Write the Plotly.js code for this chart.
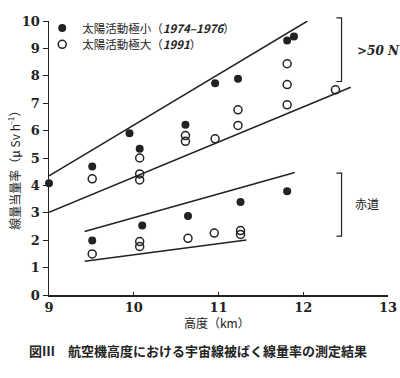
<!DOCTYPE html>
<html>
<head>
<meta charset="utf-8">
<script src="https://cdn.plot.ly/plotly-3.0.1.min.js"></script>
<style>html,body{margin:0;padding:0;background:#fff;}</style>
</head>
<body>
<div id="chart" style="width:400px;height:378px;"></div>
<script>
// ---- data ----
const minHighAlt = [9.0, 9.51, 9.95, 10.07, 10.61, 10.96, 11.23, 11.81, 11.89];
const minHighRate = [4.08, 4.69, 5.90, 5.34, 6.21, 7.73, 7.89, 9.29, 9.43];
const maxHighAlt = [9.51, 10.07, 10.07, 10.07, 10.61, 10.61, 10.96, 11.23, 11.23, 11.81, 11.81, 11.81, 12.38];
const maxHighRate = [4.24, 5.00, 4.42, 4.20, 5.82, 5.61, 5.70, 6.76, 6.19, 8.44, 7.68, 6.94, 7.49];
const minEqAlt = [9.51, 10.10, 10.64, 11.26, 11.81];
const minEqRate = [1.99, 2.54, 2.88, 3.39, 3.79];
const maxEqAlt = [9.51, 10.07, 10.07, 10.64, 10.95, 11.26, 11.26];
const maxEqRate = [1.50, 1.95, 1.77, 2.07, 2.26, 2.35, 2.21];

const fitMinHighAlt = [9.0, 12.05];
const fitMinHighRate = [4.35, 10.0];
const fitMaxHighAlt = [9.0, 12.56];
const fitMaxHighRate = [3.02, 7.58];
const fitMinEqAlt = [9.42, 11.9];
const fitMinEqRate = [2.32, 4.47];
const fitMaxEqAlt = [9.42, 11.33];
const fitMaxEqRate = [1.23, 2.01];

const seriesNames = ['太陽活動極小（<i><b>1974–1976</b></i>）', '太陽活動極大（<i><b>1991</b></i>）'];
const regionLabels = ['<i><b>&gt;50 N</b></i>', '赤道'];
const xTitle = '高度（km）';
const yTitle = '線量当量率（μ Sv h<sup>-1</sup>）';
const caption = '<b>図Ⅲ　航空機高度における宇宙線被ばく線量率の測定結果</b>';
const xTicks = [9, 10, 11, 12, 13];
const yTicks = [0, 1, 2, 3, 4, 5, 6, 7, 8, 9, 10];

// ---- styles ----
const ink = '#222';
const jp = '"Noto Sans CJK JP", "Noto Sans", sans-serif';
const serif = '"DejaVu Serif", "Liberation Serif", serif';
const filledMarker = {symbol: 'circle', size: 8, color: ink, line: {width: 0}};
const openMarker = {symbol: 'circle-open', size: 8, color: ink, line: {width: 1.5, color: ink}};
const fitLine = {color: ink, width: 1.5};

function pts(x, y, marker, name, show, leg) {
  return {x, y, type: 'scatter', mode: 'markers', marker, name, showlegend: show, legend: leg,
          cliponaxis: false, hoverinfo: 'skip'};
}
function line(x, y) {
  return {x, y, type: 'scatter', mode: 'lines', line: fitLine, showlegend: false, hoverinfo: 'skip'};
}

const data = [
  pts(minHighAlt, minHighRate, filledMarker, seriesNames[0], true, 'legend'),
  pts(maxHighAlt, maxHighRate, openMarker, seriesNames[1], true, 'legend2'),
  pts(minEqAlt, minEqRate, filledMarker, seriesNames[0], false, 'legend'),
  pts(maxEqAlt, maxEqRate, openMarker, seriesNames[1], false, 'legend2'),
  line(fitMinHighAlt, fitMinHighRate),
  line(fitMaxHighAlt, fitMaxHighRate),
  line(fitMinEqAlt, fitMinEqRate),
  line(fitMaxEqAlt, fitMaxEqRate)
];

const legendStyle = (y) => ({x: -0.02, y, xanchor: 'left', yanchor: 'top', bgcolor: 'rgba(0,0,0,0)',
  font: {family: jp, size: 11.5, color: ink}, itemwidth: 30});

const bx = 0.863, bt = 0.015;
const layout = {
  width: 400, height: 378,
  margin: {l: 49, r: 12, t: 21, b: 83},
  paper_bgcolor: '#fff', plot_bgcolor: '#fff',
  showlegend: true,
  legend: legendStyle(1.027),
  legend2: legendStyle(0.968),
  xaxis: {range: [9, 13], tickvals: xTicks, ticks: 'inside', ticklen: 3, tickwidth: 1, tickcolor: ink,
          showline: true, linecolor: ink, linewidth: 1.5, showgrid: false, zeroline: false,
          tickfont: {family: serif, size: 13, color: ink, weight: 'bold'}, fixedrange: true},
  yaxis: {range: [0, 10], tickvals: yTicks, ticks: 'outside', ticklen: 5, tickwidth: 1, tickcolor: ink,
          showline: true, linecolor: ink, linewidth: 1.5, showgrid: false, zeroline: false,
          tickfont: {family: serif, size: 13, color: ink, weight: 'bold'}, fixedrange: true},
  shapes: [
    {type: 'path', xref: 'paper', yref: 'paper',
     path: `M ${bx - bt} 1.0117 L ${bx} 1.0117 L ${bx} 0.7792 L ${bx - bt} 0.7792`,
     line: {color: ink, width: 1.2}},
    {type: 'path', xref: 'paper', yref: 'paper',
     path: `M ${bx - bt} 0.4445 L ${bx} 0.4445 L ${bx} 0.2146 L ${bx - bt} 0.2146`,
     line: {color: ink, width: 1.2}}
  ],
  annotations: [
    {text: regionLabels[0], xref: 'paper', yref: 'paper', x: 0.903, y: 0.892, xanchor: 'left', yanchor: 'middle',
     showarrow: false, font: {family: serif, size: 12, color: ink}},
    {text: regionLabels[1], xref: 'paper', yref: 'paper', x: 0.897, y: 0.334, xanchor: 'left', yanchor: 'middle',
     showarrow: false, font: {family: jp, size: 12, color: ink}},
    {text: xTitle, xref: 'paper', yref: 'paper', x: 0.495, y: -0.1, xanchor: 'center', yanchor: 'middle',
     showarrow: false, font: {family: jp, size: 12, color: ink}},
    {text: yTitle, xref: 'paper', yref: 'paper', x: -0.106, y: 0.465, xanchor: 'center', yanchor: 'middle',
     textangle: -90, showarrow: false, font: {family: jp, size: 12, color: ink}},
    {text: caption, xref: 'paper', yref: 'paper', x: 0.44, y: -0.2026, xanchor: 'center', yanchor: 'middle',
     showarrow: false, font: {family: jp, size: 13, color: ink}}
  ]
};

Plotly.newPlot('chart', data, layout, {displayModeBar: false, staticPlot: true});
</script>
</body>
</html>
